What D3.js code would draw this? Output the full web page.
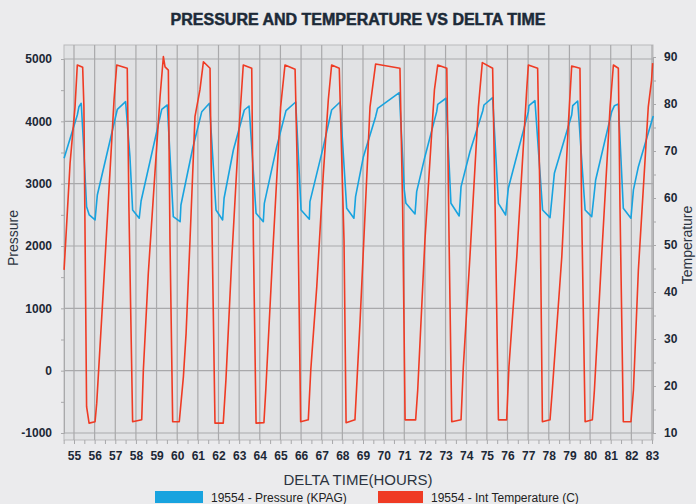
<!DOCTYPE html>
<html>
<head>
<meta charset="utf-8">
<script src="https://cdn.jsdelivr.net/npm/d3@7"></script>
<style>
  html, body { margin: 0; padding: 0; background: #ebebed; }
  svg { display: block; font-family: 'Liberation Sans', Arial, sans-serif; }
</style>
</head>
<body>
<div id="chart"></div>
<script>
// hours / values
const pressureHours = [54.52, 55.16, 55.24, 55.35, 55.45, 55.61, 55.74, 56.02, 56.13, 57.10, 57.50, 57.71, 57.84, 58.16,
  58.25, 59.25, 59.52, 59.81, 60.14, 60.18, 60.75, 61.19, 61.56, 61.88, 62.20, 62.27, 62.72, 63.25, 63.48, 63.82, 64.17,
  64.22, 64.82, 65.27, 65.74, 66.00, 66.40, 66.43, 67.08, 67.48, 67.89, 68.21, 68.56, 68.64, 69.02, 69.61, 69.71, 70.76,
  71.00, 71.08, 71.52, 71.60, 72.00, 72.57, 72.62, 73.02, 73.26, 73.66, 73.75, 74.18, 74.80, 74.86, 75.28, 75.56, 75.91,
  76.04, 77.01, 77.04, 77.33, 77.70, 78.06, 78.27, 79.11, 79.16, 79.40, 79.76, 80.08, 80.27, 81.05, 81.18, 81.37, 81.61,
  81.98, 82.10, 82.34, 83.06]
const pressureValues = [3407, 4102, 4235, 4289, 3700, 2631, 2498, 2418, 2819, 4193, 4315, 3433, 2578, 2445,
  2722, 4193, 4262, 2471, 2390, 2658, 3568, 4155, 4289, 2578, 2418, 2766, 3540, 4182, 4246, 2525, 2390,
  2685, 3594, 4171, 4310, 2578, 2429, 2712, 3594, 4182, 4310, 2605, 2445, 2792, 3433, 4075, 4209, 4460,
  2900, 2685, 2514, 2873, 3433, 4155, 4273, 4370, 2685, 2482, 2952, 3513, 4166, 4262, 4380, 2685, 2498,
  2926, 4155, 4251, 4331, 2578, 2455, 3166, 4102, 4251, 4326, 2578, 2471, 3059, 4155, 4251, 4278, 2605,
  2445, 2900, 3273, 4086]

const tempHours = [54.52, 54.81, 55.05, 55.16, 55.42, 55.48, 55.61, 55.73, 56.02, 56.10, 56.42, 56.74, 56.94, 57.07, 57.58,
  57.66, 57.84, 58.28, 58.36, 58.60, 58.92, 59.17, 59.33, 59.41, 59.57, 59.65, 59.78, 60.10, 60.30, 60.43, 60.62, 60.86,
  61.10, 61.27, 61.59, 61.67, 61.83, 62.23, 62.36, 62.64, 62.96, 63.20, 63.61, 63.69, 63.82, 64.20, 64.29, 64.66, 65.01,
  65.22, 65.71, 65.82, 65.98, 66.35, 66.47, 66.76, 67.08, 67.32, 67.48, 67.85, 68.08, 68.18, 68.61, 68.86, 69.34, 69.61,
  70.79, 70.92, 71.04, 71.55, 71.65, 72.00, 72.46, 72.62, 73.06, 73.17, 73.30, 73.75, 73.86, 74.18, 74.59, 74.78, 75.28,
  75.40, 75.56, 75.96, 76.07, 76.45, 76.93, 77.01, 77.46, 77.58, 77.69, 78.06, 78.17, 78.63, 78.95, 79.11, 79.51, 79.59,
  79.76, 80.11, 80.21, 80.56, 80.97, 81.13, 81.37, 81.45, 81.61, 81.98, 82.10, 82.34, 82.82, 82.98, 83.03]
const tempValues = [44.7, 67.4, 79.4, 88.3, 87.8, 79.4, 15.6, 12.1, 12.4, 16.3, 40.4, 65.3, 80.9, 88.3, 87.6,
  58.1, 12.4, 12.8, 23.4, 44.0, 65.3, 81.6, 90.1, 87.9, 87.2, 51.0, 12.4, 12.4, 22.0, 31.2, 51.0, 77.3,
  83.0, 89.0, 87.6, 58.1, 12.1, 12.1, 21.3, 46.8, 72.3, 88.3, 87.6, 51.0, 12.1, 12.2, 19.1, 51.0, 79.4,
  88.3, 87.4, 65.3, 12.4, 12.8, 23.4, 41.1, 65.3, 80.9, 88.3, 87.6, 51.0, 12.2, 12.8, 34.0, 79.4, 88.5,
  87.6, 58.1, 12.8, 12.8, 19.1, 51.0, 83.0, 88.3, 87.6, 51.0, 12.4, 12.8, 24.1, 47.5, 79.4, 88.8, 87.6,
  58.1, 12.8, 12.8, 24.1, 47.5, 83.0, 88.3, 87.6, 58.1, 12.4, 12.8, 19.1, 47.5, 75.9, 88.1, 87.6, 58.1,
  12.4, 12.8, 19.1, 47.5, 79.4, 88.3, 87.6, 58.1, 12.4, 12.4, 19.1, 44.7, 79.4, 85.1, 88.7]

const hourTicks = d3.range(55, 84)
const pressureTicks = [-1000, 0, 1000, 2000, 3000, 4000, 5000]
const tempTicks = [10, 20, 30, 40, 50, 60, 70, 80, 90]

const width = 696
const height = 504
const plot = { left: 64, right: 653, top: 45, bottom: 440 }

const svg = d3.select('#chart')
  .append('svg')
  .attr('width', width)
  .attr('height', height)

svg.append('rect').attr('width', width).attr('height', height).attr('fill', '#ebebed')

const x = d3.scaleLinear().domain([55, 83]).range([74, 652])
const yLeft = d3.scaleLinear().domain([-1000, 5000]).range([433, 59])
const yRight = d3.scaleLinear().domain([10, 90]).range([433, 57])

// plot background
svg.append('rect')
  .attr('x', plot.left).attr('y', plot.top)
  .attr('width', plot.right - plot.left).attr('height', plot.bottom - plot.top)
  .attr('fill', '#e1e2e4')
  .attr('stroke', '#b9b9bb')

// grid
const grid = svg.append('g').attr('stroke', '#a9a9ab').attr('stroke-width', 1.2)
grid.selectAll('line.h')
  .data(pressureTicks)
  .join('line')
  .attr('class', 'h')
  .attr('x1', plot.left).attr('x2', plot.right)
  .attr('y1', d => yLeft(d)).attr('y2', d => yLeft(d))
grid.selectAll('line.v')
  .data(hourTicks)
  .join('line')
  .attr('class', 'v')
  .attr('x1', d => x(d)).attr('x2', d => x(d))
  .attr('y1', plot.top).attr('y2', plot.bottom)

// axes
const tickColor = '#a9a9ab'
const labelStyle = g => g.selectAll('text')
  .attr('fill', '#1c2836')
  .style('font-size', '12px')
  .style('font-weight', 'bold')

svg.append('g')
  .attr('transform', `translate(${plot.left},0)`)
  .call(d3.axisLeft(yLeft).tickValues(d3.range(-1000, 5001, 500)).tickSize(3).tickPadding(9)
    .tickFormat(d => d % 1000 === 0 ? d : ''))
  .call(g => g.select('.domain').attr('stroke', tickColor))
  .call(g => g.selectAll('line').attr('stroke', tickColor))
  .call(labelStyle)

svg.append('g')
  .attr('transform', `translate(${plot.right},0)`)
  .call(d3.axisRight(yRight).tickValues(d3.range(10, 91, 5)).tickSize(3).tickPadding(8)
    .tickFormat(d => d % 10 === 0 ? d : ''))
  .call(g => g.select('.domain').attr('stroke', tickColor))
  .call(g => g.selectAll('line').attr('stroke', tickColor))
  .call(labelStyle)

svg.append('g')
  .attr('transform', `translate(0,${plot.bottom})`)
  .call(d3.axisBottom(x).tickValues(d3.range(54.5, 83.1, 0.5)).tickSize(4).tickPadding(7)
    .tickFormat(d => Number.isInteger(d) ? d : ''))
  .call(g => g.select('.domain').remove())
  .call(g => g.selectAll('line').attr('stroke', tickColor))
  .call(labelStyle)

// lines
const pressureLine = d3.line()
  .x((d, i) => x(pressureHours[i]))
  .y(d => yLeft(d))
const tempLine = d3.line()
  .x((d, i) => x(tempHours[i]))
  .y(d => yRight(d))

svg.append('path')
  .datum(pressureValues)
  .attr('fill', 'none')
  .attr('stroke', '#18a3df')
  .attr('stroke-width', 1.6)
  .attr('stroke-linejoin', 'round')
  .attr('d', pressureLine)

svg.append('path')
  .datum(tempValues)
  .attr('fill', 'none')
  .attr('stroke', '#ef3b24')
  .attr('stroke-width', 1.6)
  .attr('stroke-linejoin', 'round')
  .attr('d', tempLine)

// titles
svg.append('text')
  .attr('x', 358).attr('y', 25)
  .attr('text-anchor', 'middle')
  .attr('fill', '#1c2a38')
  .attr('stroke', '#1c2a38')
  .attr('stroke-width', 0.5)
  .style('font-size', '16px')
  .style('font-weight', 'bold')
  .text('PRESSURE AND TEMPERATURE VS DELTA TIME')

svg.append('text')
  .attr('transform', 'translate(18,238) rotate(-90)')
  .attr('text-anchor', 'middle')
  .attr('fill', '#2b3440')
  .style('font-size', '14px')
  .text('Pressure')

svg.append('text')
  .attr('transform', 'translate(692,245) rotate(-90)')
  .attr('text-anchor', 'middle')
  .attr('fill', '#2b3440')
  .style('font-size', '14px')
  .text('Temperature')

svg.append('text')
  .attr('x', 358).attr('y', 485)
  .attr('text-anchor', 'middle')
  .attr('fill', '#2b3440')
  .style('font-size', '15px')
  .text('DELTA TIME(HOURS)')

// legend
const legend = svg.append('g')
  .selectAll('g')
  .data([
    { label: '19554 - Pressure (KPAG)', color: '#18a3df', x: 155, w: 48 },
    { label: '19554 - Int Temperature (C)', color: '#ef3b24', x: 378, w: 45 }
  ])
  .join('g')
  .attr('transform', d => `translate(${d.x},491)`)
legend.append('rect')
  .attr('width', d => d.w).attr('height', 12)
  .attr('fill', d => d.color)
legend.append('text')
  .attr('x', d => d.w + 8).attr('y', 11)
  .attr('fill', '#222')
  .style('font-size', '12px')
  .text(d => d.label)
</script>
</body>
</html>
